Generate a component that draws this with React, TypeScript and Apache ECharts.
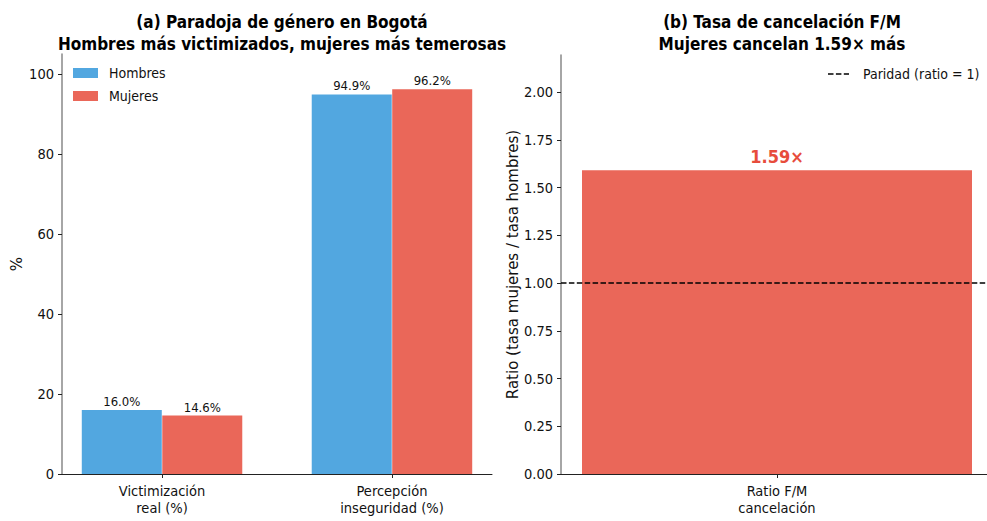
import React, { useEffect, useRef } from "react";
import * as echarts from "echarts";

const categories = ["Victimización\nreal (%)", "Percepción\ninseguridad (%)"];
const hombres = [16.0, 94.9];
const mujeres = [14.6, 96.2];
const leftYTicks = [0, 20, 40, 60, 80, 100];
const ratioCategory = "Ratio F/M\ncancelación";
const ratioValue = 1.59;
const parity = 1;
const rightYTicks = [0, 0.25, 0.5, 0.75, 1.0, 1.25, 1.5, 1.75, 2.0];

const COND = "'DejaVu Sans Condensed', 'DejaVu Sans', sans-serif";
const REG = "'DejaVu Sans', sans-serif";
const BLUE = "#52a7e0";
const RED = "#ea6759";
const DASH_ICON = "path://M0,0h5.5v1.5h-5.5z M7.9,0h5.5v1.5h-5.5z M15.8,0h5.2v1.5h-5.2z";

export default function App() {
  const ref = useRef<HTMLDivElement>(null);
  useEffect(() => {
    if (!ref.current) return;
    const chart = echarts.init(ref.current, null, { renderer: "svg" });
    const off = 0.175;
    const leftMin = -0.435, leftMax = 1.435;
    const rightMin = -0.443, rightMax = 0.443;
    const tickStyle = { show: true, length: 4, lineStyle: { color: "#222", width: 1 } };
    chart.setOption({
      animation: false,
      backgroundColor: "#fff",
      textStyle: { fontFamily: COND },
      title: [
        {
          text: "(a) Paradoja de género en Bogotá\nHombres más victimizados, mujeres más temerosas",
          left: 277, top: 6, textAlign: "center",
          textStyle: { fontFamily: COND, fontWeight: "bold", fontSize: 17, lineHeight: 22, color: "#000" },
        },
        {
          text: "(b) Tasa de cancelación F/M\nMujeres cancelan 1.59× más",
          left: 777, top: 6, textAlign: "center",
          textStyle: { fontFamily: COND, fontWeight: "bold", fontSize: 17, lineHeight: 22, color: "#000" },
        },
      ],
      legend: [
        {
          data: ["Hombres", "Mujeres"], orient: "vertical", left: 73, top: 66, padding: 0,
          itemWidth: 25, itemHeight: 10, itemGap: 9, icon: "rect",
          textStyle: { fontFamily: COND, fontSize: 14, lineHeight: 14, color: "#111", padding: [0, 0, 0, 6] },
        },
        {
          data: [{ name: "Paridad (ratio = 1)", icon: DASH_ICON, itemStyle: { color: "#000", borderWidth: 0 } }],
          orient: "vertical", left: 828, top: 67, padding: 0,
          itemWidth: 21, itemHeight: 1.5,
          textStyle: { fontFamily: COND, fontSize: 14, lineHeight: 14, color: "#111", padding: [0, 0, 0, 9] },
        },
      ],
      grid: [
        { left: 62, top: 54, width: 430, height: 420 },
        { left: 561, top: 55, width: 432, height: 419 },
      ],
      xAxis: [
        {
          type: "value", gridIndex: 0, min: leftMin, max: leftMax,
          axisLine: { show: true, onZero: false, lineStyle: { color: "#222", width: 1 } },
          axisTick: { ...tickStyle, customValues: [0, 1] },
          axisLabel: {
            customValues: [0, 1], margin: 8, fontFamily: COND, fontSize: 14.5, lineHeight: 17, color: "#111",
            formatter: (v: number) => categories[Math.round(v)] ?? "",
          },
          splitLine: { show: false },
        },
        {
          type: "value", gridIndex: 1, min: rightMin, max: rightMax,
          axisLine: { show: true, onZero: false, lineStyle: { color: "#222", width: 1 } },
          axisTick: { ...tickStyle, customValues: [0] },
          axisLabel: {
            customValues: [0], margin: 8, fontFamily: COND, fontSize: 14.5, lineHeight: 17, color: "#111",
            formatter: () => ratioCategory,
          },
          splitLine: { show: false },
        },
      ],
      yAxis: [
        {
          type: "value", gridIndex: 0, min: 0, max: 105,
          name: "%", nameLocation: "middle", nameRotate: 90, nameGap: 38,
          nameTextStyle: { fontFamily: REG, fontSize: 15, color: "#111" },
          axisLine: { show: true, onZero: false, lineStyle: { color: "#888", width: 1.5 } },
          axisTick: { ...tickStyle, customValues: leftYTicks },
          axisLabel: { customValues: leftYTicks, margin: 8, fontFamily: COND, fontSize: 14.5, color: "#111" },
          splitLine: { show: false },
        },
        {
          type: "value", gridIndex: 1, min: 0, max: 2.194,
          name: "Ratio (tasa mujeres / tasa hombres)", nameLocation: "middle", nameRotate: 90, nameGap: 41,
          nameTextStyle: { fontFamily: REG, fontSize: 15, color: "#111" },
          axisLine: { show: true, onZero: false, lineStyle: { color: "#888", width: 1.5 } },
          axisTick: { ...tickStyle, customValues: rightYTicks },
          axisLabel: {
            customValues: rightYTicks, margin: 8, fontFamily: COND, fontSize: 14.5, color: "#111",
            formatter: (v: number) => v.toFixed(2),
          },
          splitLine: { show: false },
        },
      ],
      series: [
        {
          name: "Hombres", type: "bar", xAxisIndex: 0, yAxisIndex: 0,
          data: hombres.map((v, i) => [i - off, v]),
          barWidth: 80, barGap: "-100%",
          itemStyle: { color: BLUE },
          label: {
            show: true, position: "top", distance: 2, fontFamily: COND, fontSize: 13, color: "#111",
            formatter: (p: any) => `${p.value[1].toFixed(1)}%`,
          },
        },
        {
          name: "Mujeres", type: "bar", xAxisIndex: 0, yAxisIndex: 0,
          data: mujeres.map((v, i) => [i + off, v]),
          barWidth: 80, barGap: "-100%",
          itemStyle: { color: RED },
          label: {
            show: true, position: "top", distance: 2, fontFamily: COND, fontSize: 13, color: "#111",
            formatter: (p: any) => `${p.value[1].toFixed(1)}%`,
          },
        },
        {
          name: "Ratio", type: "bar", xAxisIndex: 1, yAxisIndex: 1,
          data: [[0, ratioValue]], barWidth: 390,
          itemStyle: { color: RED },
          label: {
            show: true, position: "top", distance: 5, fontFamily: COND, fontWeight: "bold", fontSize: 18,
            color: "#e74c3c", formatter: (p: any) => `${p.value[1].toFixed(2)}×`,
          },
        },
        {
          name: "Paridad (ratio = 1)", type: "line", xAxisIndex: 1, yAxisIndex: 1,
          data: [[rightMin, parity], [rightMax, parity]], symbol: "none", z: 5,
          lineStyle: { color: "#000", width: 1.5, type: [5.5, 2.4] },
          itemStyle: { color: "#000" },
        },
      ],
    });
    return () => chart.dispose();
  }, []);
  return (
    <div style={{ position: "absolute", left: 0, top: 0, width: 987, height: 521, overflow: "hidden", background: "#fff" }}>
      <div ref={ref} style={{ width: 1000, height: 521 }} />
    </div>
  );
}
